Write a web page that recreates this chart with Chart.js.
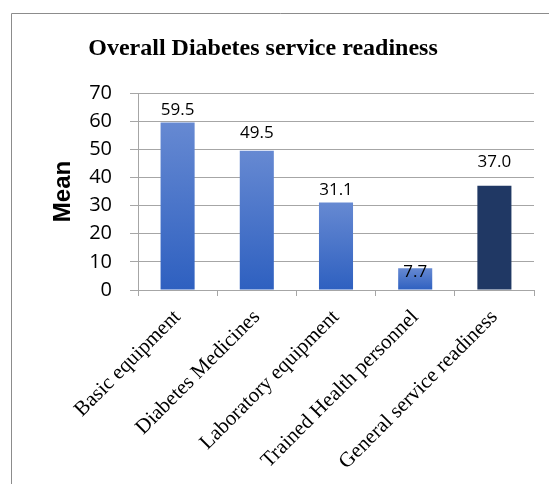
<!DOCTYPE html>
<html>
<head>
<meta charset="utf-8">
<script src="https://cdn.jsdelivr.net/npm/chart.js@4/dist/chart.umd.min.js"></script>
<style>
  html, body { margin: 0; padding: 0; background: #fff; }
  #wrap { position: relative; width: 549px; height: 484px; }
</style>
</head>
<body>
<div id="wrap"><canvas id="readinessChart" width="549" height="484"></canvas></div>
<script>
const categories = ["Basic equipment", "Diabetes Medicines", "Laboratory equipment", "Trained Health personnel", "General service readiness"];
const meanValues = [59.5, 49.5, 31.1, 7.7, 37.0];
const yTicks = [0, 10, 20, 30, 40, 50, 60, 70];

const chartTitle = "Overall Diabetes service readiness";
const gridGray = "#a6a6a6";

// the data labels were nudged by hand in the original, so keep the gaps here
const labelGap = [4, 9, 4, -12, 15];

// light-to-dark blue fill for each bar, dark navy for the summary bar
function barFill(ctx) {
    const chart = ctx.chart;
    if (ctx.dataIndex === meanValues.length - 1) return "#203864";
    const area = chart.chartArea;
    if (!area) return "#4472c4";
    const yScale = chart.scales.y;
    const top = yScale.getPixelForValue(meanValues[ctx.dataIndex]);
    const bottom = yScale.getPixelForValue(0);
    const g = chart.ctx.createLinearGradient(0, top, 0, bottom);
    g.addColorStop(0, "#6689d2");
    g.addColorStop(1, "#2e60c0");
    return g;
}

const frameAndTitle = {
    id: "frameAndTitle",
    beforeDraw(chart) {
        const c = chart.ctx;
        c.save();
        c.strokeStyle = "#8c8c8c";
        c.lineWidth = 1;
        c.beginPath();
        c.moveTo(11.5, 484);
        c.lineTo(11.5, 13.5);
        c.lineTo(549, 13.5);
        c.stroke();
        c.fillStyle = "#000";
        c.font = "bold 24px 'Liberation Serif', 'Times New Roman', serif";
        c.textAlign = "center";
        c.textBaseline = "alphabetic";
        c.fillText(chartTitle, 263, 55);
        c.restore();
    }
};

const valueLabels = {
    id: "valueLabels",
    afterDatasetsDraw(chart) {
        const c = chart.ctx;
        const meta = chart.getDatasetMeta(0);
        c.save();
        c.fillStyle = "#000";
        c.font = "17px 'Open Sans', sans-serif";
        c.textAlign = "center";
        c.textBaseline = "bottom";
        meta.data.forEach((bar, i) => {
            c.fillText(meanValues[i].toFixed(1), bar.x, bar.y - labelGap[i]);
        });
        c.restore();
    }
};

new Chart(document.getElementById("readinessChart"), {
    type: "bar",
    data: {
        labels: categories,
        datasets: [{
            data: meanValues,
            backgroundColor: barFill,
            borderWidth: 0,
            categoryPercentage: 1,
            barPercentage: 0.43
        }]
    },
    options: {
        responsive: false,
        animation: false,
        devicePixelRatio: 1,
        layout: { padding: { top: 93, right: 15, left: 0, bottom: 0 } },
        plugins: {
            legend: { display: false },
            title: { display: false },
            tooltip: { enabled: false }
        },
        scales: {
            x: {
                grid: {
                    offset: true,
                    drawOnChartArea: false,
                    drawTicks: true,
                    tickLength: 6,
                    color: gridGray
                },
                border: { color: gridGray },
                ticks: {
                    color: "#000",
                    font: { family: "'Liberation Serif', 'Times New Roman', serif", size: 21 },
                    minRotation: 45,
                    maxRotation: 45,
                    padding: 9,
                    autoSkip: false
                },
                afterFit(scale) { scale.height = 194; }
            },
            y: {
                min: 0,
                max: 70,
                afterBuildTicks(scale) { scale.ticks = yTicks.map(v => ({ value: v })); },
                grid: { color: gridGray, tickLength: 8 },
                border: { color: gridGray },
                ticks: {
                    color: "#000",
                    font: { family: "'Open Sans', sans-serif", size: 20 },
                    padding: 18
                },
                title: {
                    display: true,
                    text: "Mean",
                    color: "#000",
                    font: { family: "'Liberation Sans', Arial, sans-serif", size: 24, weight: "bold" },
                    padding: { top: 49, bottom: 0 }
                },
                afterFit(scale) { scale.width = 138; }
            }
        }
    },
    plugins: [frameAndTitle, valueLabels]
});
</script>
</body>
</html>
